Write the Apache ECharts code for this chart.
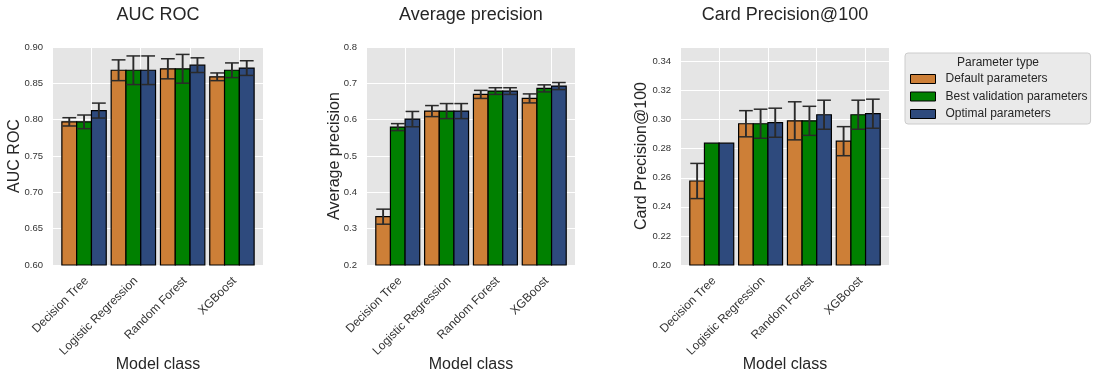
<!DOCTYPE html>
<html><head><meta charset="utf-8">
<script src="https://cdn.jsdelivr.net/npm/echarts@6/dist/echarts.min.js"></script>
<style>html,body{margin:0;padding:0;background:#fff}#c{width:1097px;height:379px}</style>
</head><body><div id="c"></div>
<script>
const categories = ['Decision Tree', 'Logistic Regression', 'Random Forest', 'XGBoost'];
const paramTypes = ['Default parameters', 'Best validation parameters', 'Optimal parameters'];
const metricNames = ['AUC ROC', 'Average precision', 'Card Precision@100'];

// AUC ROC
const aucDefault = [0.797, 0.868, 0.870, 0.859];
const aucDefaultStd = [0.0057, 0.0143, 0.0138, 0.0053];
const aucBestVal = [0.797, 0.868, 0.870, 0.868];
const aucBestValStd = [0.0094, 0.0197, 0.0198, 0.0101];
const aucOptimal = [0.8125, 0.868, 0.875, 0.871];
const aucOptimalStd = [0.0103, 0.0197, 0.0101, 0.0101];

// Average precision
const apDefault = [0.333, 0.6236, 0.6695, 0.6585];
const apDefaultStd = [0.0207, 0.0152, 0.0111, 0.0124];
const apBestVal = [0.5795, 0.6236, 0.6787, 0.6861];
const apBestValStd = [0.0096, 0.0207, 0.0092, 0.0097];
const apOptimal = [0.6015, 0.6236, 0.6787, 0.6925];
const apOptimalStd = [0.0211, 0.0207, 0.0092, 0.0097];

// Card Precision@100
const cpDefault = [0.2578, 0.2972, 0.2992, 0.2852];
const cpDefaultStd = [0.0121, 0.0090, 0.0131, 0.0100];
const cpBestVal = [0.2838, 0.2972, 0.2992, 0.3034];
const cpBestValStd = [0, 0.0100, 0.0100, 0.0100];
const cpOptimal = [0.2838, 0.2979, 0.3034, 0.3041];
const cpOptimalStd = [0, 0.0100, 0.0100, 0.0100];

// y-axis ranges [min, max, interval]
const aucAxis = [0.6, 0.9, 0.05];
const apAxis = [0.2, 0.8, 0.1];
const cpAxis = [0.2, 0.35, 0.02];

const metricData = [
  [[aucDefault, aucDefaultStd], [aucBestVal, aucBestValStd], [aucOptimal, aucOptimalStd]],
  [[apDefault, apDefaultStd], [apBestVal, apBestValStd], [apOptimal, apOptimalStd]],
  [[cpDefault, cpDefaultStd], [cpBestVal, cpBestValStd], [cpOptimal, cpOptimalStd]]
];
const axes = [aucAxis, apAxis, cpAxis];
const decimals = [2, 1, 2];
const colors = ['#CD7F37', '#008000', '#2E4A7D'];
const FONT = '"Liberation Sans", Arial, sans-serif';

const grids = [
  {left: 53, top: 47, width: 210, height: 218},
  {left: 367, top: 47, width: 208, height: 218},
  {left: 681, top: 47, width: 208, height: 218}
];
const nameGaps = [30, 24, 31];

const offsets = [-0.45, -0.15, 0.15];
const halfW = 0.15, capHalf = 0.14;
const tickVals = [0, 1, 2, 3];
const labelVals = [-0.1, 0.9, 1.9, 2.9];

function makeRender(offset, yMin) {
  return function (params, api) {
    const x = api.value(0), m = api.value(1), s = api.value(2);
    const p0 = api.coord([x + offset - halfW, m]);
    const p1 = api.coord([x + offset + halfW, yMin]);
    const children = [{
      type: 'rect',
      shape: {x: p0[0], y: p0[1], width: p1[0] - p0[0], height: p1[1] - p0[1]},
      style: {fill: api.visual('color'), stroke: '#000', lineWidth: 1.2}
    }];
    if (s > 0) {
      const t = api.coord([x + offset, m + s]);
      const b = api.coord([x + offset, m - s]);
      const cl = api.coord([x + offset - capHalf, m])[0];
      const cr = api.coord([x + offset + capHalf, m])[0];
      children.push({type: 'line', shape: {x1: t[0], y1: t[1], x2: b[0], y2: b[1]}, style: {stroke: '#2a2a2a', lineWidth: 1.9}});
      children.push({type: 'line', shape: {x1: cl, y1: t[1], x2: cr, y2: t[1]}, style: {stroke: '#2a2a2a', lineWidth: 1.5}});
      children.push({type: 'line', shape: {x1: cl, y1: b[1], x2: cr, y2: b[1]}, style: {stroke: '#2a2a2a', lineWidth: 1.5}});
    }
    return {type: 'group', children};
  };
}

const option = {
  animation: false,
  textStyle: {fontFamily: FONT},
  title: metricNames.map((n, i) => ({
    text: n, left: grids[i].left + grids[i].width / 2, top: 6, padding: 0, textAlign: 'center',
    textStyle: {fontSize: 18, fontWeight: 'normal', color: '#262626', fontFamily: FONT}
  })),
  grid: grids.map(g => Object.assign({show: true, backgroundColor: '#E5E5E5', borderWidth: 0,
    containLabel: false, outerBoundsMode: 'none'}, g)),
  xAxis: grids.map((g, i) => ({
    type: 'value', gridIndex: i, min: -0.78, max: 3.48,
    axisLine: {show: false},
    axisTick: {show: false, customValues: tickVals},
    splitLine: {show: true, lineStyle: {color: '#ffffff', width: 1}},
    axisLabel: {customValues: labelVals, formatter: v => categories[Math.round(v + 0.1)], rotate: 45,
      fontSize: 12, color: '#333', margin: 14, fontFamily: FONT},
    name: 'Model class', nameLocation: 'middle', nameGap: 92, nameMoveOverlap: false,
    nameTextStyle: {fontSize: 16, color: '#262626', fontFamily: FONT}
  })),
  yAxis: axes.map((a, i) => ({
    type: 'value', gridIndex: i, min: a[0], max: a[1], interval: a[2],
    axisLine: {show: false}, axisTick: {show: false},
    splitLine: {show: true, lineStyle: {color: '#ffffff', width: 1}},
    axisLabel: {fontSize: 9.5, color: '#333', margin: 10, showMaxLabel: i !== 2,
      formatter: v => v.toFixed(decimals[i]), fontFamily: FONT},
    name: metricNames[i], nameLocation: 'middle', nameGap: nameGaps[i], nameMoveOverlap: false,
    nameTextStyle: {fontSize: 16, color: '#262626', fontFamily: FONT}
  })),
  legend: {
    orient: 'vertical', left: 905, top: 53,
    data: paramTypes,
    backgroundColor: '#EAEAEA', borderColor: '#CCCCCC', borderWidth: 1, borderRadius: 3,
    padding: [19, 3, 3, 5], itemGap: 3.5, itemWidth: 25, itemHeight: 9,
    icon: 'rect',
    itemStyle: {borderColor: '#000', borderWidth: 1},
    textStyle: {fontSize: 12, color: '#262626', lineHeight: 14, padding: [0, 0, 0, 5], fontFamily: FONT}
  },
  graphic: [{
    type: 'text', x: 998, y: 63, z: 100, zlevel: 1,
    style: {text: 'Parameter type', font: '12px ' + FONT, fill: '#262626', align: 'center', verticalAlign: 'middle', textAlign: 'center', textVerticalAlign: 'middle'}
  }],
  series: []
};

metricData.forEach((md, gi) => {
  md.forEach((pair, hi) => {
    const means = pair[0], stds = pair[1];
    option.series.push({
      type: 'custom', name: paramTypes[hi], xAxisIndex: gi, yAxisIndex: gi,
      itemStyle: {color: colors[hi]},
      renderItem: makeRender(offsets[hi], axes[gi][0]),
      encode: {x: 0, y: 1},
      data: categories.map((c, ci) => [ci, means[ci], stds[ci]])
    });
  });
});

const chart = echarts.init(document.getElementById('c'), null, {renderer: 'canvas'});
chart.setOption(option);
</script>
</body></html>
